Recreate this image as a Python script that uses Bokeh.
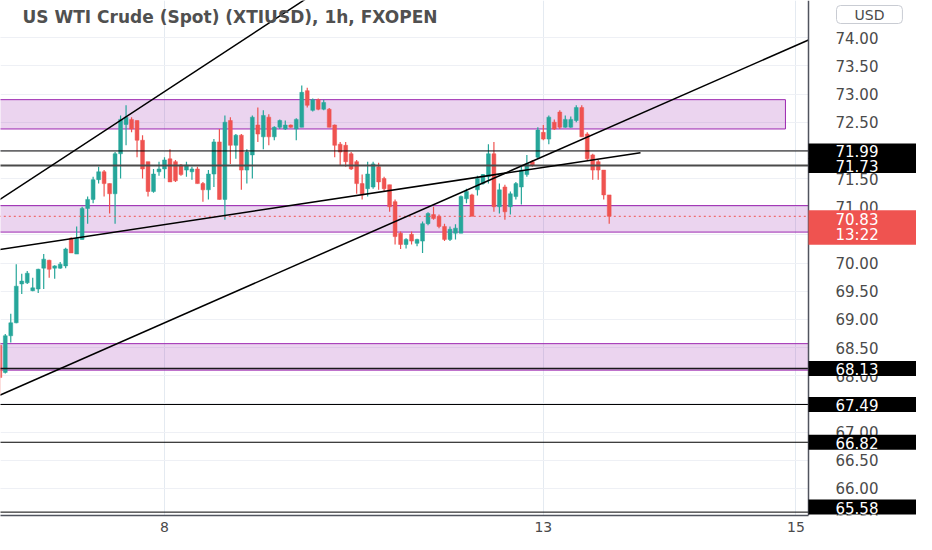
from bokeh.plotting import figure
from bokeh.models import Label, Span, FixedTicker, Range1d, Grid
from bokeh.core.properties import value
from bokeh.embed import file_html
from bokeh.resources import INLINE

# ---------------- data ----------------
title_text = "US WTI Crude (Spot) (XTIUSD), 1h, FXOPEN"
currency = "USD"

opens = [68.54, 68.06, 68.71, 68.94, 69.63, 69.65, 69.51, 69.54, 69.91, 70.05,
         69.91, 69.91, 69.95, 70.44, 70.16, 70.42, 70.97, 71.13, 71.48, 71.62,
         71.41, 71.23, 71.94, 72.46, 72.55, 72.53, 72.18, 71.80, 71.27, 71.62,
         71.67, 71.85, 71.80, 71.74, 71.65, 71.62, 71.67, 71.41, 71.30, 71.58,
         72.15, 71.13, 72.53, 72.09, 72.27, 71.65, 71.92, 72.45, 72.24, 72.59,
         72.24, 72.41, 72.38, 72.45, 72.38, 72.41, 73.06, 72.71, 72.90, 72.73,
         72.73, 72.45, 72.11, 72.09, 71.94, 71.80, 71.41, 71.32, 71.35, 71.71,
         71.50, 71.39, 71.09, 70.53, 70.33, 70.51, 70.35, 70.39, 70.70, 70.86,
         70.83, 70.65, 70.42, 70.53, 70.53, 71.14, 71.21, 71.30, 71.41, 71.53,
         71.94, 71.00, 71.35, 71.00, 71.18, 71.35, 71.57, 71.80, 71.88, 72.32,
         72.20, 72.50, 72.68, 72.41, 72.41, 72.53, 72.76, 72.29, 71.92, 71.80,
         71.65, 71.21]
highs = [68.59, 68.74, 69.10, 69.98, 69.81, 69.86, 69.74, 69.90, 70.16, 70.06,
         69.96, 70.02, 70.27, 70.46, 70.65, 71.00, 71.18, 71.53, 71.71, 71.65,
         71.41, 71.97, 72.62, 72.80, 72.59, 72.53, 72.27, 71.80, 71.67, 71.80,
         71.88, 72.02, 71.83, 71.76, 71.80, 71.71, 71.71, 71.44, 71.65, 72.20,
         72.38, 72.62, 72.59, 72.29, 72.29, 72.02, 72.62, 72.76, 72.71, 72.64,
         72.43, 72.55, 72.53, 72.46, 72.57, 73.15, 73.11, 72.92, 72.92, 72.90,
         72.75, 72.46, 72.15, 72.15, 71.97, 71.83, 71.57, 71.80, 71.80, 71.78,
         71.53, 71.39, 71.13, 70.56, 70.44, 70.56, 70.43, 70.74, 70.90, 71.00,
         70.86, 70.70, 70.65, 70.69, 71.20, 71.32, 71.23, 71.55, 71.58, 72.11,
         72.15, 71.41, 71.39, 71.27, 71.44, 71.71, 71.92, 71.83, 72.41, 72.45,
         72.62, 72.55, 72.71, 72.62, 72.60, 72.80, 72.80, 72.32, 71.94, 71.83,
         71.65, 71.21]
lows = [67.66, 68.04, 68.59, 68.93, 69.45, 69.63, 69.50, 69.47, 69.54, 69.74,
        69.72, 69.90, 69.91, 70.18, 70.16, 70.42, 70.70, 71.06, 71.41, 71.18,
        70.88, 70.70, 71.50, 72.09, 72.32, 71.88, 71.50, 71.18, 71.25, 71.55,
        71.50, 71.44, 71.44, 71.55, 71.53, 71.48, 71.41, 71.09, 71.13, 71.35,
        71.13, 70.77, 71.76, 71.85, 71.30, 71.41, 71.50, 72.15, 72.02, 72.09,
        72.18, 72.38, 72.36, 72.40, 72.18, 72.41, 72.76, 72.69, 72.71, 72.71,
        72.41, 71.88, 71.74, 71.71, 71.65, 71.23, 71.13, 71.18, 71.32, 71.30,
        71.27, 70.91, 70.33, 70.25, 70.26, 70.33, 70.30, 70.18, 70.67, 70.77,
        70.62, 70.39, 70.39, 70.42, 70.53, 71.06, 70.83, 71.20, 71.39, 71.41,
        70.91, 70.88, 70.77, 70.86, 71.13, 71.04, 71.53, 71.71, 71.85, 72.18,
        72.11, 72.36, 72.38, 72.40, 72.40, 72.50, 72.24, 71.83, 71.48, 71.48,
        71.13, 70.70]
closes = [67.97, 68.71, 68.94, 69.59, 69.68, 69.82, 69.56, 69.89, 70.07, 69.89,
          69.95, 69.98, 70.25, 70.18, 70.44, 70.97, 71.13, 71.48, 71.62, 71.41,
          71.23, 71.94, 72.55, 72.59, 72.38, 72.18, 71.67, 71.27, 71.58, 71.67,
          71.83, 71.44, 71.46, 71.57, 71.74, 71.67, 71.41, 71.30, 71.58, 72.15,
          71.13, 72.50, 72.09, 72.27, 71.65, 71.97, 72.59, 72.29, 72.62, 72.24,
          72.41, 72.53, 72.45, 72.41, 72.55, 73.03, 72.80, 72.90, 72.73, 72.85,
          72.41, 72.09, 71.97, 71.80, 71.67, 71.41, 71.21, 71.58, 71.76, 71.44,
          71.32, 71.00, 70.47, 70.33, 70.42, 70.39, 70.42, 70.70, 70.88, 70.79,
          70.65, 70.42, 70.60, 70.62, 71.18, 71.27, 70.83, 71.50, 71.57, 71.94,
          71.00, 71.30, 70.91, 71.23, 71.41, 71.65, 71.76, 71.74, 72.36, 72.20,
          72.59, 72.38, 72.41, 72.55, 72.55, 72.76, 72.24, 71.85, 71.65, 71.65,
          71.21, 70.83]

# hourly bar index at which each day starts, and its label
day_ticks = [30, 99, 145]
day_labels = ["8", "13", "15"]

# price scale ticks
y_ticks = [65.5, 66.0, 66.5, 67.0, 67.5, 68.0, 68.5, 69.0, 69.5, 70.0,
           70.5, 71.0, 71.5, 72.0, 72.5, 73.0, 73.5, 74.0]

# drawn horizontal levels (price, colour, width)
level_prices = [71.99, 71.73, 68.13, 67.49, 66.82, 65.58]
level_colors = ["#000000", "#4a4a4a", "#1a1a1a", "#000000", "#000000", "#000000"]
level_widths = [1, 2, 1.5, 1, 1, 1]

# drawn trend lines: (bar index, price) pairs
trend_x0 = [-2, -2, -2]
trend_y0 = [71.00, 67.57, 70.21]
trend_x1 = [60, 147.3, 116.7]
trend_y1 = [74.96, 73.96, 71.96]

# purple zones
zone_bottom = [72.38, 70.55, 68.10]
zone_top = [72.90, 71.02, 68.57]
zone_start = [-2, -2, -2]
zone_end = [143.1, 147.3, 147.3]

last_price = closes[-1]
countdown = "13:22"

# ---------------- view ----------------
chart_end = 147.3              # bar index where the price scale begins
x_view = (0.13, 166.97)
y_view = (65.52, 74.66)

GREEN = "#26a69a"
RED = "#ef5350"
PURPLE = "#9c27b0"
FONT = "DejaVu Sans"
TXT = "#4a4a4a"

p = figure(width=916, height=534, output_backend="svg", toolbar_location=None,
           x_range=Range1d(*x_view), y_range=Range1d(*y_view),
           y_axis_location=None, min_border=0)
p.outline_line_color = None
p.background_fill_color = "white"
p.border_fill_color = "white"

# x axis (dates)
xax = p.xaxis[0]
xax.ticker = FixedTicker(ticks=day_ticks)
xax.major_label_overrides = {t: l for t, l in zip(day_ticks, day_labels)}
xax.major_label_text_font = FONT
xax.major_label_text_font_size = "14px"
xax.major_label_text_color = TXT
xax.major_tick_out = 0
xax.major_tick_in = 0
xax.minor_tick_out = 0
xax.minor_tick_in = 0
xax.major_label_standoff = 6
xax.axis_line_color = "#50535e"
xax.axis_line_width = 1.5
xax.bounds = (x_view[0], chart_end)

p.xgrid.ticker = FixedTicker(ticks=day_ticks)
p.xgrid.grid_line_color = "#e4eaf1"
p.add_layout(Grid(dimension=1, ticker=FixedTicker(ticks=y_ticks),
                  grid_line_color="#eef0f5"))

# price scale background (covers the grid to the right of the chart)
p.quad(left=[chart_end], right=[x_view[1] + 5], bottom=[y_view[0] - 5],
       top=[y_view[1] + 5], fill_color="white", line_color=None)

# zones
p.quad(left=zone_start, right=zone_end, bottom=zone_bottom, top=zone_top,
       fill_color=PURPLE, fill_alpha=0.2, line_color=PURPLE, line_width=1)

# candles
idx = list(range(len(opens)))
colors = [GREEN if c >= o else RED for o, c in zip(opens, closes)]
body_top = [max(o, c) for o, c in zip(opens, closes)]
body_bot = [min(o, c) for o, c in zip(opens, closes)]
p.segment(x0=idx, y0=highs, x1=idx, y1=lows, line_color=colors, line_width=1.2)
p.vbar(x=idx, width=0.7, top=body_top, bottom=body_bot,
       fill_color=colors, line_color=colors, line_width=0.5)

# current price dotted line
p.segment(x0=[zone_start[0]], y0=[last_price], x1=[chart_end], y1=[last_price],
          line_color=RED, line_width=1, line_dash="2 3")

# horizontal levels
n_lv = len(level_prices)
p.segment(x0=[zone_start[0]] * n_lv, y0=level_prices, x1=[chart_end] * n_lv,
          y1=level_prices, line_color=level_colors, line_width=level_widths)

# trend lines
p.segment(x0=trend_x0, y0=trend_y0, x1=trend_x1, y1=trend_y1,
          line_color="#000000", line_width=1.5)

# price scale: axis line + tick labels
p.add_layout(Span(location=chart_end, dimension="height",
                  line_color="#50535e", line_width=1.5))
p.text(x=[chart_end] * len(y_ticks), y=y_ticks,
       text=[f"{v:.2f}" for v in y_ticks], x_offset=27,
       text_font=value(FONT), text_font_size="15px", text_color=TXT,
       text_align="left", text_baseline="middle")

# title
p.add_layout(Label(x=22, x_units="canvas", y=y_view[1], y_units="data",
                   y_offset=-6, text=title_text, text_baseline="top",
                   text_font=FONT, text_font_size="17px", text_font_style="bold",
                   text_color="#505050"))

# currency box
p.add_layout(Label(x=836, x_units="canvas", y=y_view[1], y_units="data",
                   y_offset=-5, text=currency, text_baseline="top",
                   text_font=FONT, text_font_size="14px", text_color=TXT,
                   background_fill_color="white", border_line_color="#c9ccd3",
                   border_radius=4,
                   padding=dict(left=18, right=18, top=1, bottom=1)))

# level tags on the price scale
lowest = min(level_prices)
for lv in level_prices:
    p.add_layout(Label(x=chart_end, x_units="data", y=lv, y_units="data",
                       y_offset=5 if lv == lowest else 0,
                       text=f"{lv:.2f}", text_baseline="middle",
                       text_font=FONT, text_font_size="15px", text_color="white",
                       background_fill_color="#000000",
                       padding=dict(left=27, right=42, top=2, bottom=1)))

# last price tag
p.add_layout(Label(x=chart_end, x_units="data", y=last_price, y_units="data",
                   y_offset=6, text=f"{last_price:.2f}\n{countdown}",
                   text_baseline="top", text_font=FONT, text_font_size="15px",
                   text_color="white", text_line_height=0.8,
                   background_fill_color=RED,
                   padding=dict(left=27, right=42, top=1, bottom=1)))

open("out.html", "w").write(file_html(p, INLINE))
